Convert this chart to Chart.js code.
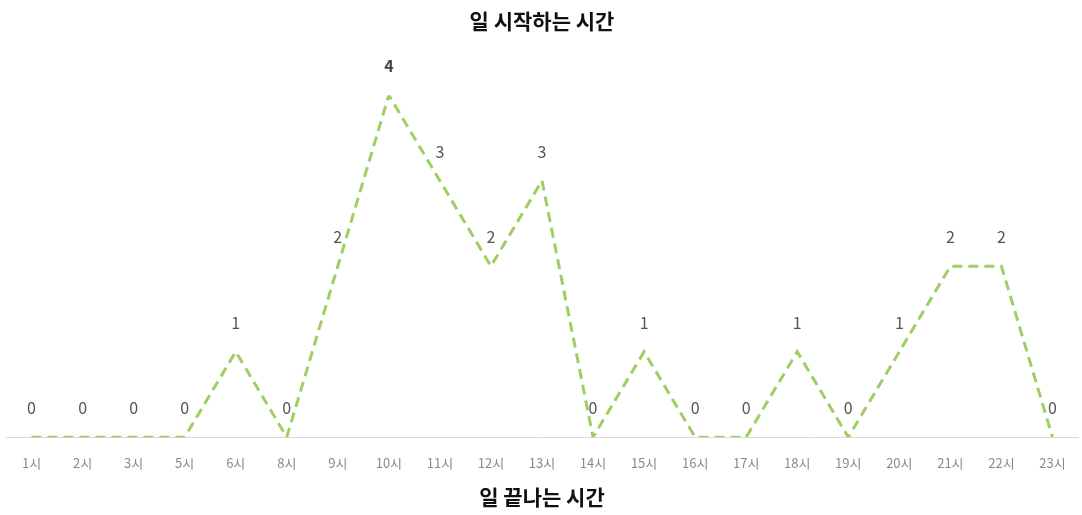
<!DOCTYPE html>
<html lang="ko">
<head>
<meta charset="utf-8">
<title>일 시작하는 시간</title>
<script src="https://cdn.jsdelivr.net/npm/chart.js@4"></script>
<style>
	html, body { margin: 0; padding: 0; background: #fff; }
	#wrap { width: 1082px; height: 515px; }
</style>
</head>
<body>
<div id="wrap"><canvas id="hour-chart"></canvas></div>
<script>
const hourLabels = ['1시', '2시', '3시', '5시', '6시', '8시', '9시', '10시', '11시', '12시', '13시',
	'14시', '15시', '16시', '17시', '18시', '19시', '20시', '21시', '22시', '23시'];
const startCounts = [0, 0, 0, 0, 1, 0, 2, 4, 3, 2, 3, 0, 1, 0, 0, 1, 0, 1, 2, 2, 0];

const FONT = "'Noto Sans CJK KR', 'Noto Sans', sans-serif";

// Writes each count above its point; the peak gets a bold label.
const valueLabels = {
	id: 'valueLabels',
	afterDatasetsDraw(chart) {
		const ctx = chart.ctx;
		const meta = chart.getDatasetMeta(0);
		const data = chart.data.datasets[0].data;
		const top = Math.max(...data);
		ctx.save();
		ctx.textAlign = 'center';
		ctx.textBaseline = 'middle';
		meta.data.forEach((pt, i) => {
			const v = data[i];
			ctx.font = (v === top ? 'bold ' : '') + '16px ' + FONT;
			ctx.fillStyle = v === top ? '#444' : '#555';
			ctx.fillText(String(v), pt.x, pt.y - 29);
		});
		ctx.restore();
	},
};

const ctx = document.getElementById('hour-chart').getContext('2d');
new Chart(ctx, {
	type: 'line',
	data: {
		labels: hourLabels,
		datasets: [{
			label: '일 시작하는 시간',
			data: startCounts,
			borderColor: '#9fcf62',
			borderWidth: 3,
			borderDash: [10, 6],
			pointRadius: 0,
			fill: false,
			tension: 0,
		}],
	},
	options: {
		responsive: true,
		maintainAspectRatio: false,
		animation: false,
		layout: {
			padding: { left: 6, right: 4, top: 0, bottom: 0 },
		},
		plugins: {
			legend: { display: false },
			tooltip: { enabled: false },
			title: {
				display: true,
				text: '일 시작하는 시간',
				color: '#111',
				font: { family: FONT, size: 21, weight: 'bold' },
				padding: { top: 8, bottom: 62 },
			},
		},
		scales: {
			x: {
				offset: true,
				grid: { display: false },
				border: { display: true, color: '#d9d9d9', width: 1 },
				ticks: {
					color: '#8a8a8a',
					padding: 10,
					font: { family: FONT, size: 13 },
					maxRotation: 0,
					autoSkip: false,
				},
				title: {
					display: true,
					text: '일 끝나는 시간',
					color: '#111',
					font: { family: FONT, size: 21, weight: 'bold' },
					padding: { top: 4, bottom: 5 },
				},
			},
			y: {
				display: false,
				min: 0,
				max: 4,
			},
		},
	},
	plugins: [valueLabels],
});
</script>
</body>
</html>
